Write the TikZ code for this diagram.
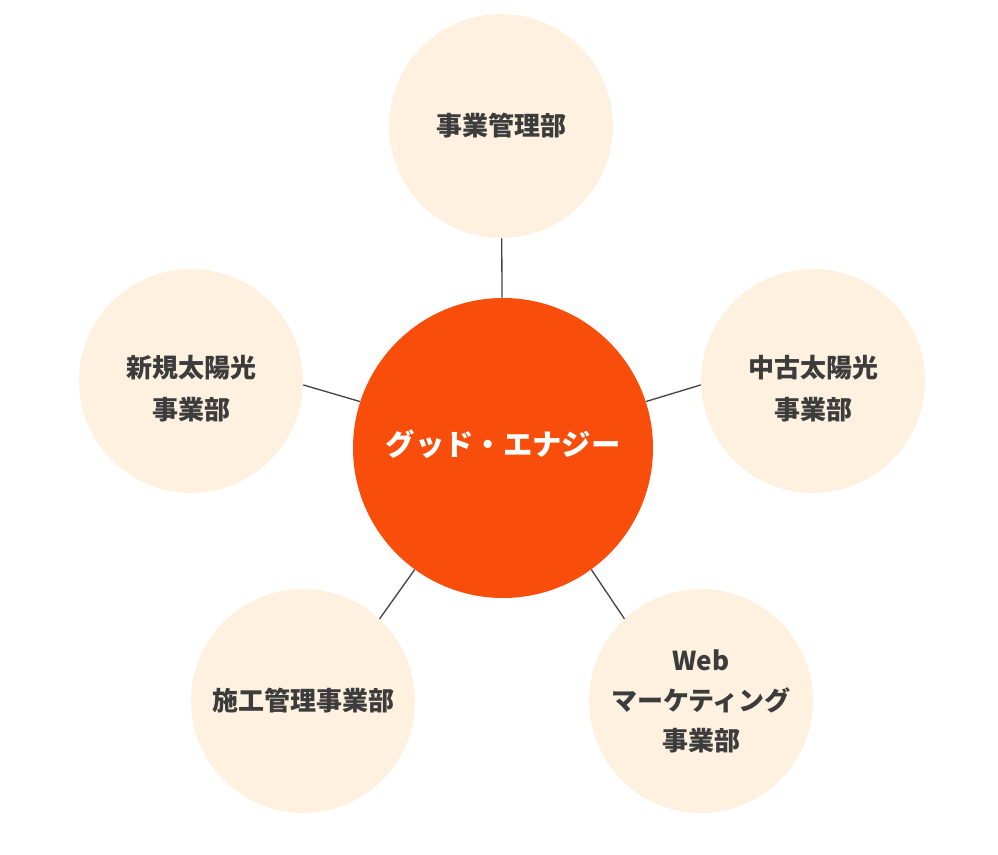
\documentclass[tikz,border=0pt]{standalone}
\usepackage{fontspec}
\newfontfamily\jpfont{Noto Sans CJK JP}
\usepackage{tikz}
\usetikzlibrary{positioning}
\definecolor{hubred}{HTML}{F94E0B}
\definecolor{unitcream}{HTML}{FEF1DF}
\definecolor{inktext}{HTML}{3C3C3C}
\definecolor{linkgray}{HTML}{444444}
\newcommand\topstrut{\rule{0pt}{28pt}}

\begin{document}
\begin{tikzpicture}[x=0.75pt, y=-0.75pt, every node/.style={font=\jpfont\bfseries, align=center}, hub/.style={circle, fill=hubred, text=white, inner sep=0pt, minimum size=225pt, text height=16pt, text depth=5.2pt, font=\jpfont\bfseries\fontsize{22}{30}\selectfont}, unit/.style={circle, fill=unitcream, text=inktext, inner sep=0pt, minimum size=168pt, font=\jpfont\bfseries\fontsize{19.5}{30}\selectfont}, twoline/.style={unit, font=\jpfont\bfseries\fontsize{19.5}{31.5}\selectfont}, link/.style={draw=linkgray, line width=1pt}]
\useasboundingbox (0,0) rectangle (998,855);
\node[hub] (grid) at (503,448) {グッド・エナジー};
\node[unit] (admin) at (501,126) {事業管理部};
\node[twoline] (newsolar) at (191,381) {\topstrut 新規太陽光\\事業部};
\node[twoline] (usedsolar) at (813,381) {\topstrut 中古太陽光\\事業部};
\node[unit] (works) at (303,701) {施工管理事業部};
\node[unit] (web) at (701,701) {Web\\マーケティング\\事業部};

\draw[link] (grid) -- (admin);
\draw[link] (grid.162) -- (newsolar.-2);
\draw[link] (grid.18) -- (usedsolar.182);
\draw[link] (grid.234) -- (works.47);
\draw[link] (grid.306) -- (web.133);
\end{tikzpicture}
\end{document}
